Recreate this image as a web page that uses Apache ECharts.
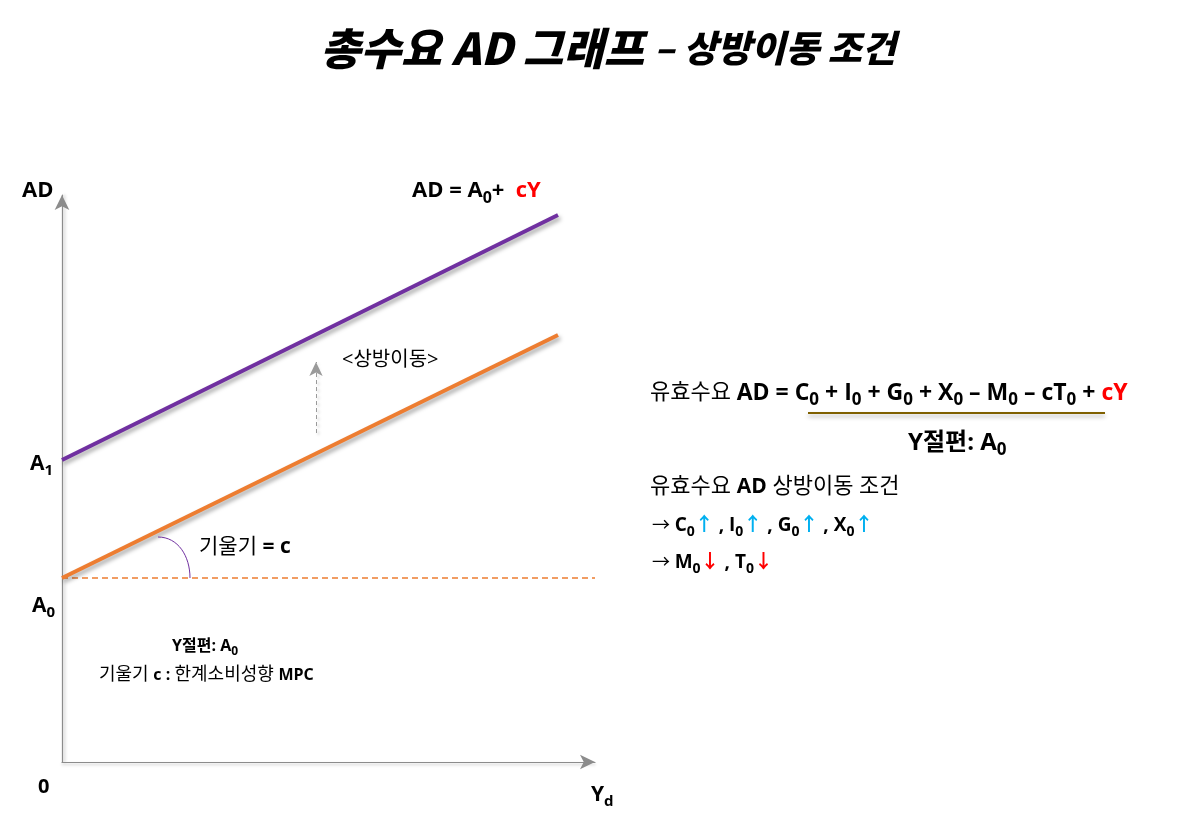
<!DOCTYPE html>
<html lang="ko">
<head>
<meta charset="UTF-8">
<title>총수요 AD 그래프</title>
<script src="https://cdn.jsdelivr.net/npm/echarts@6/dist/echarts.min.js"></script>
<style>
  html, body { margin: 0; padding: 0; background: #fff; }
  #main { width: 1188px; height: 817px; }
</style>
</head>
<body>
<div id="main"></div>
<script>
// 값은 그림에서 읽은 좌표 (축 원점 기준, 픽셀 단위 비례)
var xMax = 533, yMax = 567;
var adBase = [[0, 184], [496, 427]];      // AD = A0 + cY
var adShifted = [[0, 302], [496, 547]];   // 상방이동 후
var a0Level = [[0, 184], [533, 184]];     // A0 수평 점선
var shiftArrow = [[254, 329], [254, 400]];

var font = '"Open Sans", "Noto Sans CJK KR", sans-serif';
var shadow = {shadowColor: 'rgba(0,0,0,0.35)', shadowBlur: 4, shadowOffsetX: 2, shadowOffsetY: 3};

function n(size) { return {fontSize: size, fontFamily: font, lineHeight: size + 8}; }
function b(size, color) { return {fontSize: size, fontWeight: 'bold', fontFamily: font, lineHeight: size + 8, fill: color || '#000'}; }
// 아래 첨자: 본문보다 약 3px 아래
function sub(main) {
    return {fontSize: Math.round(main * 0.72), fontWeight: 'bold', fontFamily: font, lineHeight: main + 2, verticalAlign: 'bottom'};
}

function txt(x, y, text, rich, extra) {
    var st = {
        x: x, y: y, text: text, rich: rich,
        fill: '#000', font: '16px ' + font,
        textVerticalAlign: 'middle'
    };
    for (var k in extra) st[k] = extra[k];
    return {type: 'text', style: st, z: 10};
}

var myChart = echarts.init(document.getElementById('main'));
var option = {
    animation: false,
    backgroundColor: '#fff',
    grid: {left: 62, top: 195, width: 533, height: 567},
    xAxis: {
        type: 'value', min: 0, max: xMax,
        axisLine: {onZero: false, symbol: ['none', 'arrow'], symbolSize: [11, 15],
            lineStyle: {color: '#8c8c8c', width: 1.2, shadowColor: 'rgba(0,0,0,0.25)', shadowBlur: 3, shadowOffsetY: 2}},
        axisTick: {show: false}, axisLabel: {show: false}, splitLine: {show: false}
    },
    yAxis: {
        type: 'value', min: 0, max: yMax,
        axisLine: {onZero: false, symbol: ['none', 'arrow'], symbolSize: [11, 15],
            lineStyle: {color: '#8c8c8c', width: 1.2, shadowColor: 'rgba(0,0,0,0.25)', shadowBlur: 3, shadowOffsetX: 2}},
        axisTick: {show: false}, axisLabel: {show: false}, splitLine: {show: false}
    },
    series: [
        {
            type: 'line', data: a0Level, symbol: 'none', z: 2,
            lineStyle: {color: '#ed7d31', width: 1.5, type: [6, 4]}
        },
        {
            type: 'line', data: adBase, symbol: 'none', z: 3,
            lineStyle: Object.assign({color: '#ed7d31', width: 4}, shadow)
        },
        {
            type: 'line', data: adShifted, symbol: 'none', z: 3,
            lineStyle: Object.assign({color: '#7030a0', width: 4}, shadow)
        },
        {
            type: 'line', data: [], symbol: 'none',
            markLine: {
                silent: true, symbol: ['none', 'arrow'], symbolSize: [10, 14],
                label: {show: false},
                lineStyle: {color: '#9a9a9a', width: 1, type: [4, 3], shadowColor: 'rgba(0,0,0,0.25)', shadowBlur: 3, shadowOffsetX: 2, shadowOffsetY: 2},
                data: [[{coord: shiftArrow[0]}, {coord: shiftArrow[1]}]]
            }
        }
    ],
    graphic: [
        // 제목
        txt(608, 48, '{a|총수요 AD 그래프 }{c|– 상방이동 조건}', {
            a: {fontSize: 44, fontWeight: 900, fontStyle: 'italic', fontFamily: '"Noto Sans CJK KR", sans-serif', fill: '#000'},
            c: {fontSize: 37, fontWeight: 900, fontStyle: 'italic', fontFamily: '"Noto Sans CJK KR", sans-serif', fill: '#000'}
        }, {textAlign: 'center'}),
        // 기울기 호
        {type: 'bezierCurve', shape: {x1: 158, y1: 537, cpx1: 178, cpy1: 537, cpx2: 190, cpy2: 556, x2: 190, y2: 578},
            style: {stroke: '#7030a0', fill: null, lineWidth: 1}, z: 5},
        // 축 라벨
        txt(22, 191, 'AD', null, {font: 'bold 22px ' + font}),
        txt(30, 464, '{a|A}{s|1}', {a: b(21), s: sub(21)}),
        txt(32, 606, '{a|A}{s|0}', {a: b(21), s: sub(21)}),
        txt(38, 787, '0', null, {font: 'bold 20px ' + font}),
        txt(591, 795, '{a|Y}{s|d}', {a: b(21), s: sub(21)}),
        // 식 라벨
        txt(412, 191, '{b|AD = A}{s|0}{b|+  }{r|cY}', {b: b(22), s: sub(22), r: b(22, '#ff0000')}),
        txt(342, 360, '<상방이동>', null, {font: '20px ' + font}),
        txt(199, 547, '{n|기울기 }{b|= c}', {n: n(21), b: b(21)}),
        txt(172, 646, '{b|Y절편: A}{s|0}', {b: b(16), s: sub(16)}),
        txt(99, 675, '{n|기울기 }{b|c : }{n|한계소비성향 }{b|MPC}', {n: n(18), b: b(16)}),
        // 오른쪽 설명
        txt(650, 393, '{n|유효수요 }{b|AD = C}{s|0}{b| + I}{s|0}{b| + G}{s|0}{b| + X}{s|0}{b| – M}{s|0}{b| – cT}{s|0}{b| + }{r|cY}', {
            n: n(22), b: b(23), s: sub(23), r: b(23, '#ff0000')
        }),
        {type: 'line', shape: {x1: 808, y1: 413, x2: 1105, y2: 413},
            style: {stroke: '#7f6000', lineWidth: 2, shadowColor: 'rgba(0,0,0,0.3)', shadowBlur: 4, shadowOffsetY: 3}, z: 5},
        txt(908, 443, '{b|Y절편: A}{s|0}', {b: b(24), s: sub(24)}),
        txt(650, 487, '{n|유효수요 }{b|AD}{n| 상방이동 조건}', {n: n(22), b: b(21)}),
        txt(652, 526, '{n|→ }{b|C}{s|0}{u|↑}{b| , I}{s|0}{u|↑}{b| , G}{s|0}{u|↑}{b| , X}{s|0}{u|↑}', {
            n: n(18), b: b(19), s: sub(19), u: b(19, '#00b0f0')
        }),
        txt(652, 563, '{n|→ }{b|M}{s|0}{d|↓}{b| , T}{s|0}{d|↓}', {
            n: n(18), b: b(19), s: sub(19), d: b(19, '#ff0000')
        })
    ]
};
myChart.setOption(option);
</script>
</body>
</html>
